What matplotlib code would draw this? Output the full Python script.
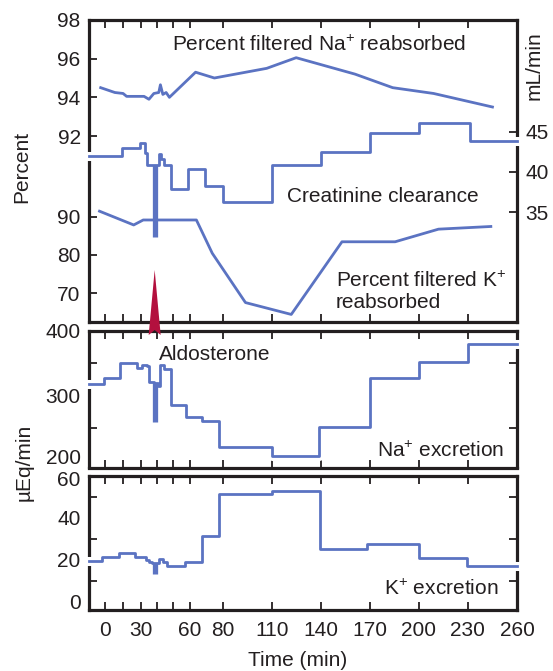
import numpy as np
import matplotlib
matplotlib.use('Agg')
import matplotlib.pyplot as plt
from matplotlib import patheffects
from matplotlib.patches import Polygon
from matplotlib.transforms import ScaledTranslation

plt.rcParams['font.family'] = ['Liberation Sans', 'DejaVu Sans']
plt.rcParams['mathtext.fontset'] = 'custom'
plt.rcParams['mathtext.rm'] = 'Liberation Sans'
plt.rcParams['mathtext.it'] = 'Liberation Sans:italic'
plt.rcParams['mathtext.bf'] = 'Liberation Sans:bold'

INK = '#231f20'
BLUE = '#5b73c2'
RED = '#b3103e'

# ---- data (time in min) ----
na_reab_t = [-4, 8, 15, 18, 32, 35, 38, 41, 42, 43.5, 45.5, 47.5, 63.5, 75, 107, 125, 161, 184, 209, 245]
na_reab_v = [94.5, 94.25, 94.2, 94.05, 94.05, 93.9, 94.2, 94.25, 94.65, 94.15, 94.25, 94.0,
             95.3, 95.0, 95.5, 96.05, 95.2, 94.5, 94.2, 93.5]

creat_t = [-13.9, 14.5, 29.5, 32.5, 34, 41, 42.5, 44.5, 48.5, 59, 69, 80, 110.5, 140, 170, 200, 231, 260]
creat_v = [41.9, 42.9, 43.6, 42.3, 40.9, 42.2, 41.6, 40.9, 37.8, 40.3, 38.2, 36.2, 40.8, 42.5, 44.85, 46.1, 43.85, 43.85]
creat_bar = (40.9, 31.9)

k_reab_t = [-5, 24, 31.5, 64, 73.7, 94, 122, 153, 185.5, 212, 244]
k_reab_v = [91.4, 87.8, 89.1, 89.1, 80.4, 67.5, 64.4, 83.4, 83.4, 86.7, 87.4]

na_exc_t = [-13.9, -1, 12.5, 27, 31, 33.5, 35.2, 38, 40.5, 41.5, 44.5, 48.5, 57.5, 67.5, 78, 110, 139, 170, 200, 230, 260]
na_exc_v = [318, 327.5, 351, 342, 348, 346, 321, 319, 314, 348, 340.5, 285.5, 266, 260, 219.5, 206, 251.5,
            326.5, 351.5, 380, 380]
na_bar = (319, 259)

k_exc_t = [-13.9, -2.5, 11.5, 25.5, 33, 35, 37, 41, 43.5, 46, 57, 67.5, 78, 110, 139.5, 168.5, 200, 229.5, 260]
k_exc_v = [19.4, 21.4, 23, 21.1, 20, 19, 18.3, 20.2, 19.05, 17.1, 18.75, 31.4, 51.5, 53, 25, 27.5, 21, 17, 17]
k_bar = (18.3, 13.2)

t_aldo = 39
xticks_major = [0, 30, 60, 80, 110, 140, 170, 200, 230, 260]
xticks_minor = [15, 40, 50]


# time axis is compressed before 30 min
def fwd(t):
    t = np.asarray(t, float)
    return np.where(t < 30, 30 + (t - 30) * 0.721, t)


def inv(u):
    u = np.asarray(u, float)
    return np.where(u < 30, 30 + (u - 30) / 0.721, u)


W, H = 553, 671
fig = plt.figure(figsize=(W / 100, H / 100), dpi=100)


def pos(top, bottom):
    return [89 / W, 1 - bottom / H, 428 / W, (bottom - top) / H]


ax_k = fig.add_axes(pos(20, 322))
ax_na = fig.add_axes(pos(20, 322), sharex=ax_k)
ax_cr = fig.add_axes(pos(20, 322), sharex=ax_k)
ax_mid = fig.add_axes(pos(331, 467.5), sharex=ax_k)
ax_bot = fig.add_axes(pos(476, 610), sharex=ax_k)

ax_k.set_xscale('function', functions=(fwd, inv))
ax_k.set_xlim(-13.9, 260)
ax_k.set_xticks(xticks_major)
ax_k.set_xticks(xticks_minor, minor=True)
ax_k.set_xticklabels([str(v) for v in xticks_major])

for ax in [ax_k, ax_mid, ax_bot]:
    for s in ax.spines.values():
        s.set_linewidth(2.3)
        s.set_color(INK)
    ax.tick_params(which='both', direction='in', length=6, width=1.3, color=INK,
                   labelsize=15, labelcolor=INK, top=True, bottom=True)
    ax.tick_params(axis='x', which='both', labelbottom=False, pad=8)
    ax.tick_params(axis='y', pad=6)
ax_bot.tick_params(axis='x', which='both', labelbottom=True)

for ax in [ax_na, ax_cr]:
    ax.patch.set_visible(False)
    for s in ax.spines.values():
        s.set_visible(False)
    ax.tick_params(axis='x', which='both', bottom=False, top=False, labelbottom=False)
    ax.tick_params(axis='y', direction='in', length=6, width=1.3, color=INK,
                   labelsize=15, labelcolor=INK, pad=6)

# top panel scales
ax_na.set_ylim(82.38, 98)
ax_na.set_yticks([92, 94, 96, 98])
ax_k.set_ylim(62.42, 141.4)
ax_k.set_yticks([70, 80, 90])
ax_k.tick_params(axis='y', right=False)
ax_cr.set_ylim(21.34, 58.85)
ax_cr.yaxis.tick_right()
ax_cr.set_yticks([35, 40, 45])

# middle panel
ax_mid.set_ylim(188.4, 400)
ax_mid.set_yticks([200, 300, 400])
ax_mid.set_yticks([250, 300, 350], minor=True)
ax_mid.tick_params(axis='y', which='major', length=0, right=True)
ax_mid.tick_params(axis='y', which='minor', left=True, right=True)

# bottom panel
ax_bot.set_ylim(-4, 60)
ax_bot.set_yticks([0, 20, 40, 60])
ax_bot.set_yticks([10, 20, 30, 40, 50], minor=True)
ax_bot.tick_params(axis='y', which='major', length=0, right=True)
ax_bot.tick_params(axis='y', which='minor', left=True, right=True)

# nudge the crowded "200" / "60" labels apart like the original
lab200 = ax_mid.yaxis.get_major_ticks()[0].label1
lab200.set_transform(lab200.get_transform() + ScaledTranslation(0, 4 / 100, fig.dpi_scale_trans))
lab60 = ax_bot.yaxis.get_major_ticks()[3].label1
lab60.set_transform(lab60.get_transform() + ScaledTranslation(0, -3 / 100, fig.dpi_scale_trans))

halo = [patheffects.withStroke(linewidth=6.5, foreground='white', capstyle='projecting')]
LW = 2.0

ax_na.plot(na_reab_t, na_reab_v, color=BLUE, lw=LW)
ax_k.plot(k_reab_t, k_reab_v, color=BLUE, lw=LW)
ax_cr.step(creat_t, creat_v, where='post', color=BLUE, lw=LW, clip_on=False,
           zorder=3, path_effects=halo)
ax_cr.plot([t_aldo, t_aldo], creat_bar, color=BLUE, lw=3.8, solid_capstyle='butt', zorder=4)

ax_mid.step(na_exc_t, na_exc_v, where='post', color=BLUE, lw=LW, clip_on=False,
            zorder=3, path_effects=halo)
ax_mid.plot([t_aldo, t_aldo], na_bar, color=BLUE, lw=3.8, solid_capstyle='butt', zorder=4)

ax_bot.step(k_exc_t, k_exc_v, where='post', color=BLUE, lw=LW, clip_on=False,
            zorder=3, path_effects=halo)
ax_bot.plot([t_aldo, t_aldo], k_bar, color=BLUE, lw=3.8, solid_capstyle='butt', zorder=4)

# aldosterone arrow
xc = ax_bot.transData.transform((38.5, 0))[0] / W
arrow = Polygon([(xc, 1 - 270 / H), (xc + 6 / W, 1 - 335 / H), (xc, 1 - 330 / H),
                 (xc - 6 / W, 1 - 335 / H)], closed=True, transform=fig.transFigure,
                facecolor=RED, edgecolor='none', zorder=10)
fig.add_artist(arrow)


def ftext(x, y, s, **kw):
    fig.text(x / W, 1 - y / H, s, fontsize=15, color=INK, **kw)


ftext(172, 50.7, 'Percent filtered Na$^{+}$ reabsorbed', ha='left', va='baseline')
ftext(287, 201.7, 'Creatinine clearance', ha='left', va='baseline')
ftext(336, 286.7, 'Percent filtered K$^{+}$', ha='left', va='baseline')
ftext(336, 308.3, 'reabsorbed', ha='left', va='baseline')
ftext(159, 360, 'Aldosterone', ha='left', va='baseline')
ftext(377, 456.7, 'Na$^{+}$ excretion', ha='left', va='baseline')
ftext(384, 595, 'K$^{+}$ excretion', ha='left', va='baseline')
ftext(298, 660, 'Time (min)', ha='center', va='center')
ftext(22, 167, 'Percent', ha='center', va='center', rotation=90)
ftext(24, 462, 'µEq/min', ha='center', va='center', rotation=90)
ftext(534, 66, 'mL/min', ha='center', va='center', rotation=90)

fig.savefig('out.png', dpi=100)
